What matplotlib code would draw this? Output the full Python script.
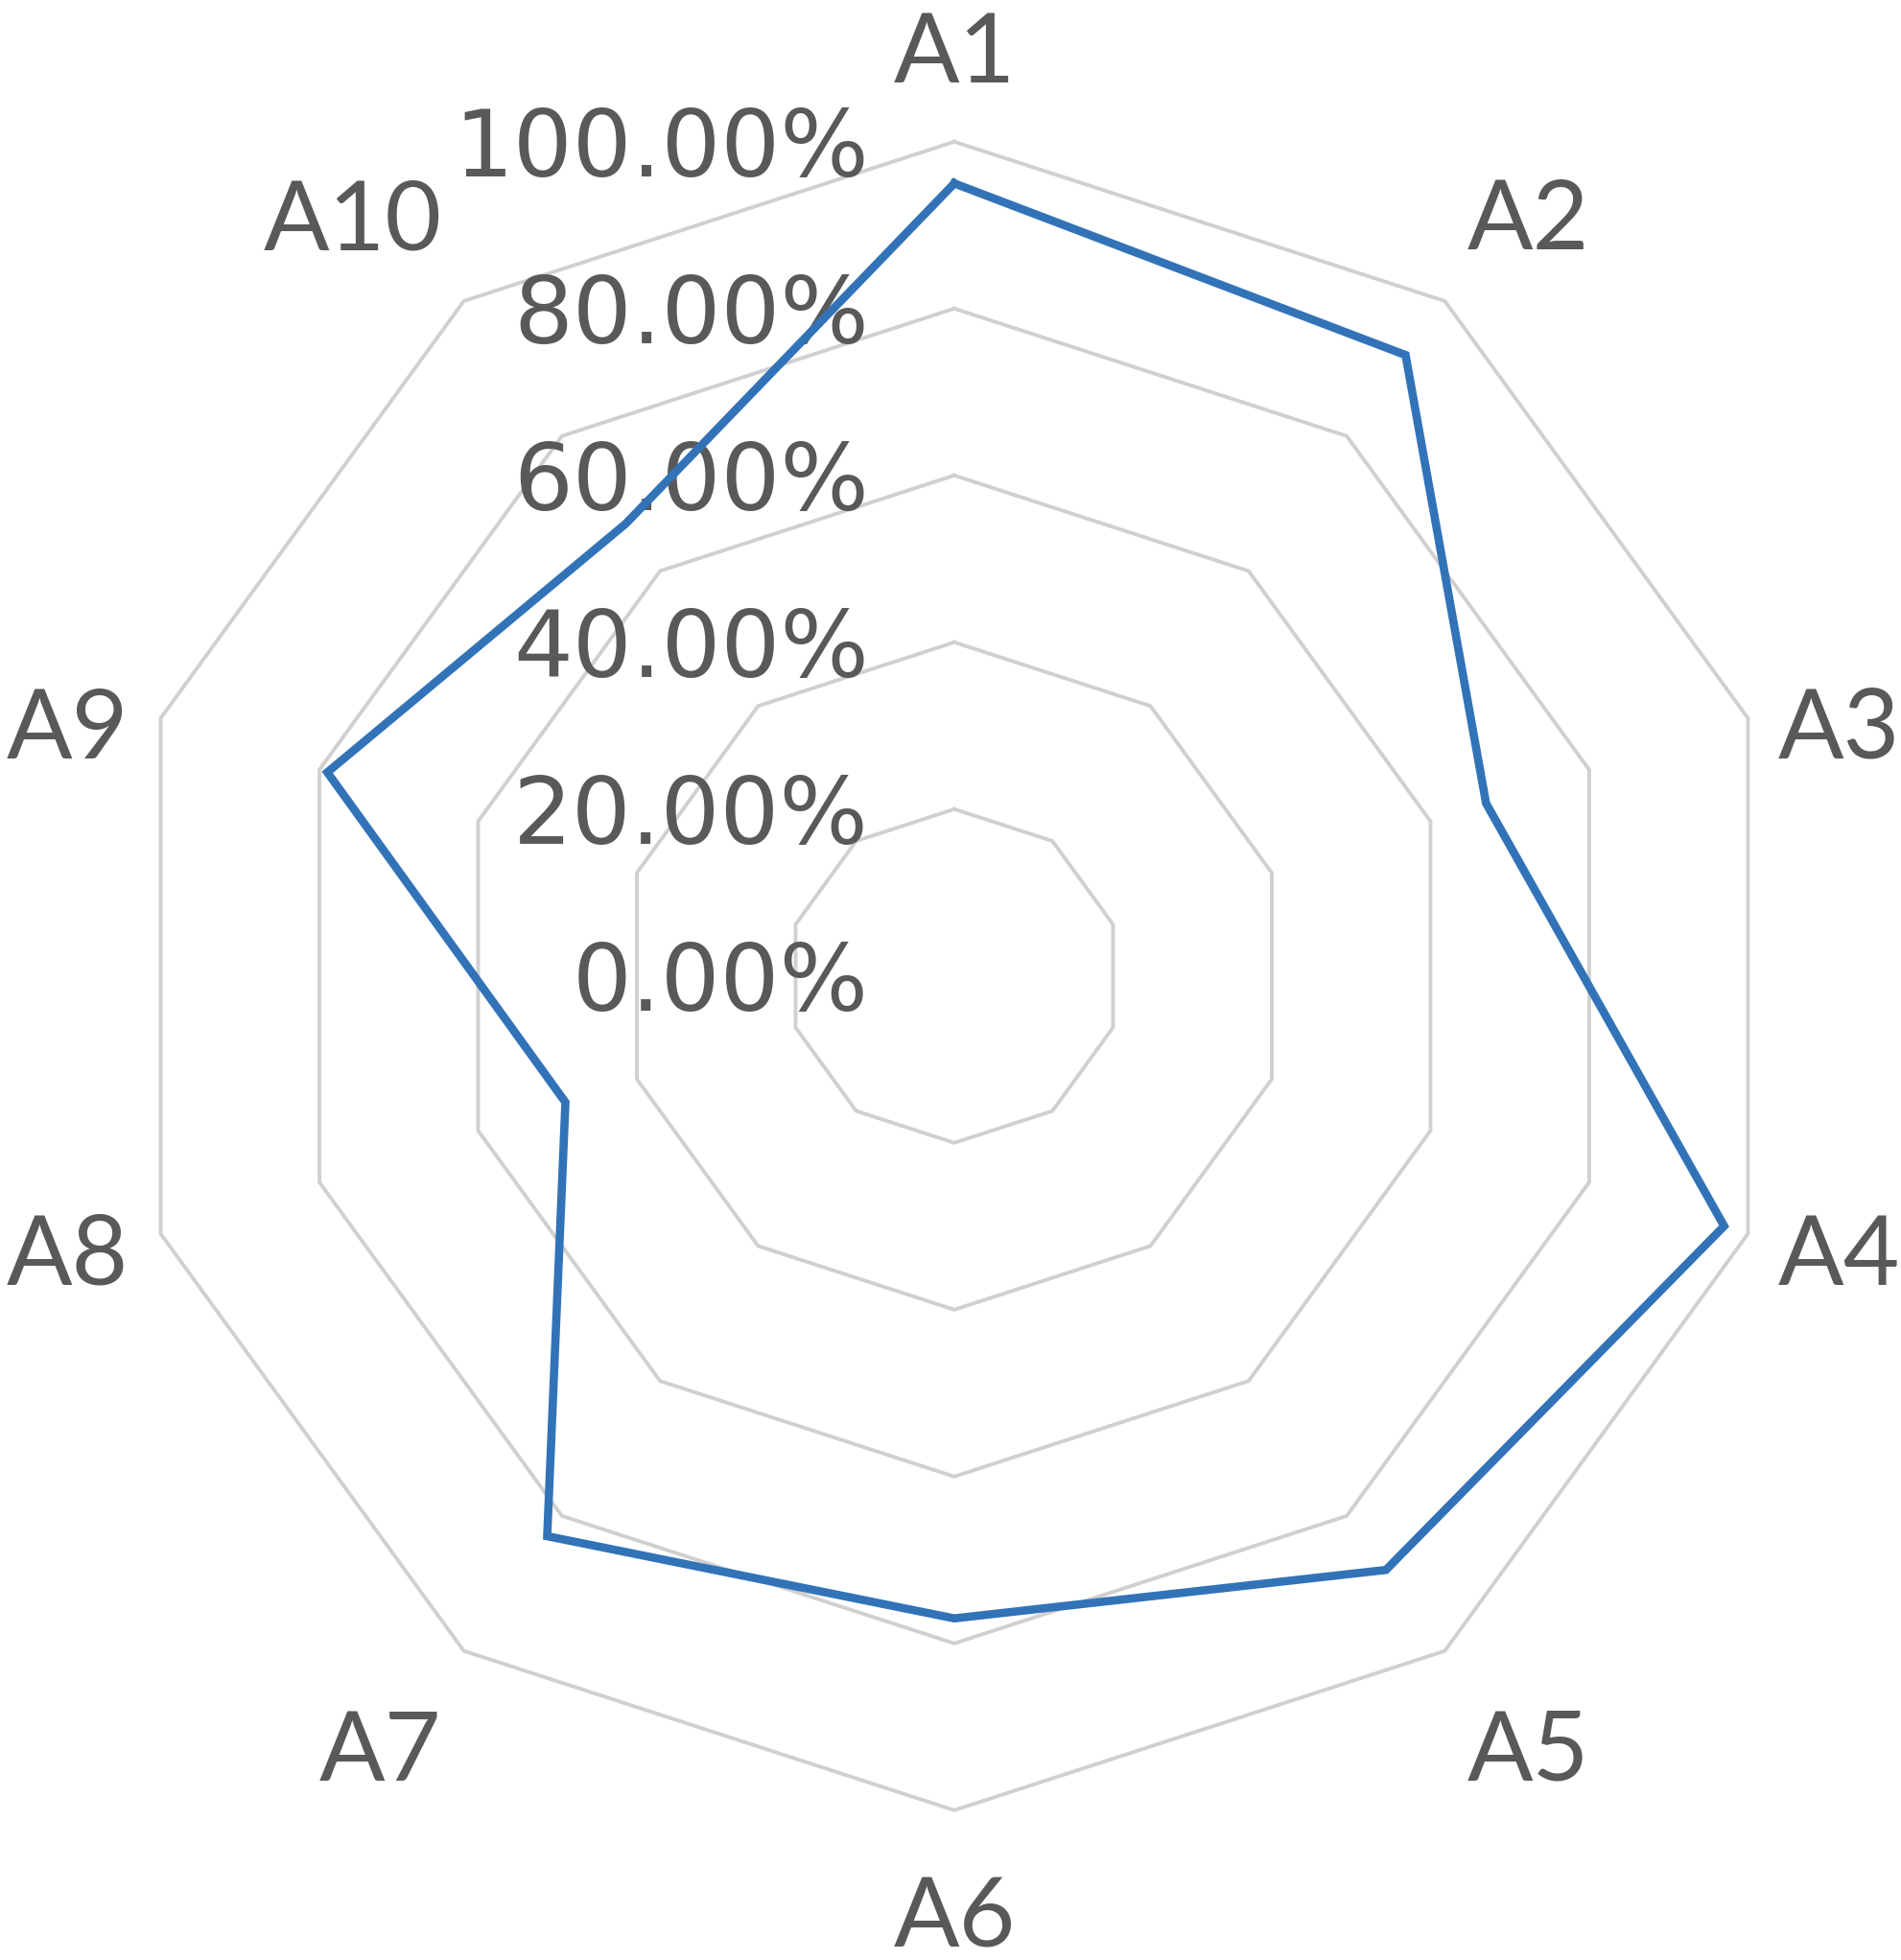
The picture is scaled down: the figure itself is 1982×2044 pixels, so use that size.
import numpy as np
import matplotlib
matplotlib.use("Agg")
import matplotlib.pyplot as plt

categories = ["A1", "A2", "A3", "A4", "A5", "A6", "A7", "A8", "A9", "A10"]
values = [0.95, 0.92, 0.67, 0.97, 0.88, 0.77, 0.83, 0.49, 0.79, 0.67]
ring_levels = [0.2, 0.4, 0.6, 0.8, 1.0]
tick_levels = [0.0, 0.2, 0.4, 0.6, 0.8, 1.0]
tick_labels = ["0.00%", "20.00%", "40.00%", "60.00%", "80.00%", "100.00%"]

plt.rcParams['font.family'] = ['Lato', 'DejaVu Sans']

W, H = 1983, 2044
fig = plt.figure(figsize=(W / 100, H / 100), dpi=100)
ax = fig.add_axes([0.0630, 0.0764, 0.8775, 0.8513], projection='polar')
ax.set_theta_offset(np.pi / 2)
ax.set_theta_direction(-1)
ax.set_ylim(0, 1)
ax.grid(False)
ax.spines['polar'].set_visible(False)
ax.set_xticks([])
ax.set_yticks([])
ax.patch.set_visible(False)

n = len(categories)
angles = np.linspace(0, 2 * np.pi, n, endpoint=False)
closed_angles = np.concatenate([angles, angles[:1]])

grid_color = '#d0d0d0'
for lvl in ring_levels:
    ax.plot(closed_angles, [lvl] * (n + 1), color=grid_color, lw=2.8,
            solid_joinstyle='miter', zorder=1, clip_on=False)

vals = np.array(values + values[:1])
ax.plot(closed_angles, vals, color='#3273B8', lw=6.2,
        solid_joinstyle='miter', zorder=3, clip_on=False)

text_color = '#595959'
r_anchor = 1.045
for ang, lab in zip(angles, categories):
    s, c = np.sin(ang), np.cos(ang)
    ha = 'left' if s > 0.3 else ('right' if s < -0.3 else 'center')
    dx = 0
    if c > 0.5:
        va, dy = 'baseline', 16
    elif c < -0.5:
        va, dy = 'top', -21
    else:
        va = 'center_baseline'
        dy = -12 if c > 0 else -3
        dx = -4 if s > 0 else 3
    ax.annotate(lab, xy=(ang, r_anchor), xytext=(dx, dy),
                textcoords='offset points', ha=ha, va=va, fontsize=73,
                color=text_color, zorder=4, annotation_clip=False)

for lvl, lab in zip(tick_levels, tick_labels):
    ax.annotate(lab, xy=(0, lvl), xytext=(-64, 0), textcoords='offset points',
                ha='right', va='center_baseline', fontsize=70,
                family='DejaVu Sans', color=text_color,
                zorder=2, annotation_clip=False)

fig.savefig('out.png', dpi=100, facecolor='white')
